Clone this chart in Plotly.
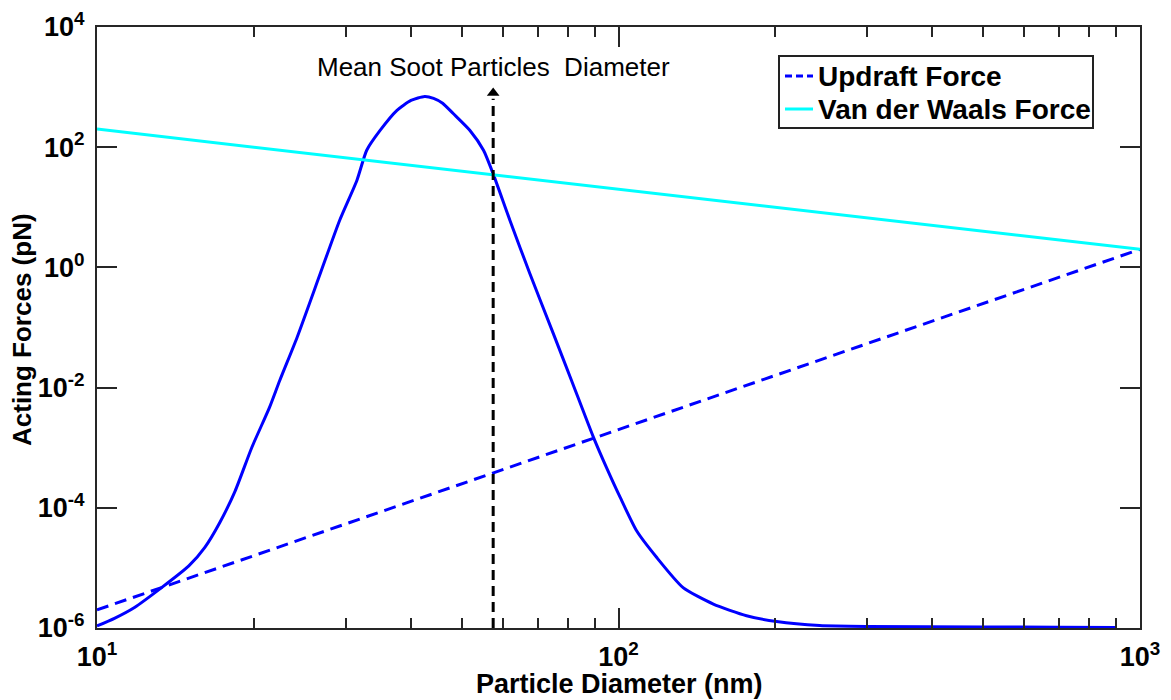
import math
import plotly.graph_objects as go

# Particle diameter (nm) vs. acting force (pN)
dist_d = [10.0, 10.8, 11.8, 13.3, 15.0, 16.1, 17.2, 18.4, 19.8, 21.4, 22.4, 24.2,
          26.8, 29.2, 31.5, 32.9, 34.9, 37.6, 40.0, 42.5, 44.2, 46.0, 48.2, 51.9,
          55.1, 57.5, 61.9, 67.6, 75.0, 81.3, 89.5, 94.8, 100.7, 108.4, 118.3,
          133, 152, 176, 201, 243, 300, 500, 700, 900]
dist_F = [1.08e-6, 1.45e-6, 2.2e-6, 4.7e-6, 1.08e-5, 2.2e-5, 5.7e-5, 1.9e-4, 1.0e-3,
          4.6e-3, 1.3e-2, 6.9e-2, 0.79, 6.1, 28, 89, 190, 410, 600, 700, 650, 540,
          363, 190, 89, 36, 6.1, 0.79, 0.079, 0.013, 1.5e-3, 4.7e-4, 1.5e-4, 4.1e-5,
          1.5e-5, 4.7e-6, 2.5e-6, 1.6e-6, 1.28e-6, 1.1e-6, 1.06e-6, 1.04e-6, 1.03e-6,
          1.02e-6]

updraft_d = [10, 100, 1000]
updraft_F = [2e-6, 2e-3, 2]

vdw_d = [10, 100, 1000]
vdw_F = [200, 20, 2]

mean_d = 57.5
mean_arrow_F = [1e-6, 640]
mean_tip_F = 800

x_ticks = [10, 100, 1000]
x_ticktext = ["10<sup>1</sup>", "10<sup>2</sup>", "10<sup>3</sup>"]
x_minor = [20, 30, 40, 50, 60, 70, 80, 90, 200, 300, 400, 500, 600, 700, 800, 900]
y_ticks = [1e-6, 1e-4, 1e-2, 1, 1e2, 1e4]
y_ticktext = ["10<sup>-6</sup>", "10<sup>-4</sup>", "10<sup>-2</sup>",
              "10<sup>0</sup>", "10<sup>2</sup>", "10<sup>4</sup>"]

legend_names = ["Updraft Force", "Van der Waals Force"]
x_title = "Particle Diameter (nm)"
y_title = "Acting Forces (pN)"

BLUE = "#0000ff"
CYAN = "#00ffff"
AXC = "#262626"
FONT = "Liberation Sans, Arial, sans-serif"
UPDRAFT_DASH = "12px,7px"

fig = go.Figure()

fig.add_trace(go.Scatter(
    x=dist_d, y=dist_F, mode="lines", showlegend=False,
    line=dict(color=BLUE, width=3, shape="spline", smoothing=0.6)))

fig.add_trace(go.Scatter(
    x=updraft_d, y=updraft_F, mode="lines", name=legend_names[0], showlegend=False,
    line=dict(color=BLUE, width=3, dash=UPDRAFT_DASH)))

fig.add_trace(go.Scatter(
    x=vdw_d, y=vdw_F, mode="lines", name=legend_names[1], showlegend=False,
    line=dict(color=CYAN, width=3)))

# mean diameter marker: dashed shaft with arrowhead
fig.add_trace(go.Scatter(
    x=[mean_d, mean_d], y=mean_arrow_F, mode="lines", showlegend=False,
    line=dict(color="black", width=3, dash="10px,6px")))
fig.add_trace(go.Scatter(
    x=[mean_d], y=[mean_tip_F], mode="markers", showlegend=False,
    marker=dict(symbol="triangle-up", size=11, color="black")))

fig.add_annotation(
    x=math.log10(mean_d), y=3.333, xref="x", yref="y",
    text="Mean Soot Particles  Diameter", showarrow=False,
    font=dict(family=FONT, size=26, color="black"))

# pixel -> paper helpers for the fixed plot box
L, B, W, H = 97, 628, 1043, 601


def px(x):
    return (x - L) / W


def py(y):
    return (B - y) / H


# boxed key in the upper right of the axes
fig.add_shape(type="rect", xref="paper", yref="paper",
              x0=px(779), x1=px(1093), y0=py(128), y1=py(56),
              line=dict(color="#222222", width=2), fillcolor="white", layer="above")
key_rows = [(76, BLUE, "7px,4px"), (109, CYAN, "solid")]
for name, (yy, col, dash) in zip(legend_names, key_rows):
    fig.add_shape(type="line", xref="paper", yref="paper",
                  x0=px(785), x1=px(813), y0=py(yy), y1=py(yy),
                  line=dict(color=col, width=3, dash=dash), layer="above")
    fig.add_annotation(xref="paper", yref="paper", x=px(816), y=py(yy),
                       xanchor="left", yanchor="middle", showarrow=False,
                       text=name,
                       font=dict(family=FONT, size=28, color="black", weight="bold"))

# axis titles
fig.add_annotation(xref="paper", yref="paper", x=px(619), y=py(684),
                   xanchor="center", yanchor="middle", showarrow=False,
                   borderpad=0, text=x_title,
                   font=dict(family=FONT, size=27, color="black", weight="bold"))
fig.add_annotation(xref="paper", yref="paper", x=px(22), y=py(330),
                   xanchor="center", yanchor="middle", showarrow=False,
                   textangle=-90, text=y_title,
                   font=dict(family=FONT, size=26, color="black", weight="bold"))

axis_common = dict(
    type="log", showgrid=False, zeroline=False, automargin=False,
    showline=True, linecolor=AXC, linewidth=2, mirror="ticks",
    ticks="inside", tickcolor=AXC, tickwidth=2, ticklen=20,
    tickfont=dict(family=FONT, size=27, color="black", weight="bold"),
)

fig.update_xaxes(
    **axis_common,
    range=[1, 3], tickmode="array", tickvals=x_ticks, ticktext=x_ticktext,
    ticklabelstandoff=4,
    minor=dict(tickmode="array", tickvals=x_minor, ticks="inside", ticklen=10,
               tickcolor=AXC, tickwidth=2),
)
fig.update_yaxes(
    **axis_common,
    range=[-6, 4], tickmode="array", tickvals=y_ticks, ticktext=y_ticktext,
    ticklabelstandoff=5,
)

fig.update_layout(
    width=1171, height=700,
    margin=dict(l=97, r=31, t=27, b=72),
    paper_bgcolor="white", plot_bgcolor="white",
    showlegend=False,
)

fig.write_html("out.html")
